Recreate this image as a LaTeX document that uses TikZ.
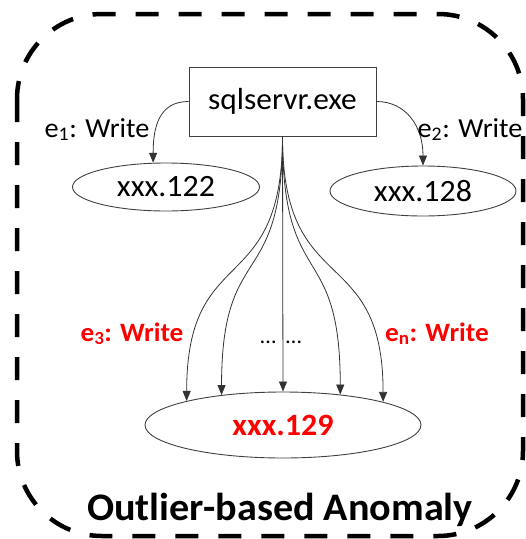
\documentclass[tikz,border=0pt]{standalone}
\usepackage{fontspec}
\setmainfont{Carlito}[FakeStretch=1.03]
\usetikzlibrary{arrows.meta,shapes.geometric,calc}

\begin{document}
\begin{tikzpicture}[x=1pt,y=-1pt,
  frame/.style={line width=4.5pt, dash pattern=on 23pt off 20pt, rounded corners=85pt},
  procbox/.style={draw=black!75, line width=0.9pt, minimum width=187pt,
    minimum height=69pt, inner sep=0pt, font=\fontsize{30.5}{34}\selectfont},
  fileov/.style={ellipse, draw=black!75, line width=0.9pt, inner sep=0pt,
    font=\fontsize{31}{34}\selectfont},
  wr/.style={-{Triangle[length=10pt,width=8pt]}, draw=black!80, line width=0.8pt},
  lbl/.style={anchor=base, inner sep=0pt, font=\fontsize{27.5}{30}\selectfont},
  redlbl/.style={anchor=base, inner sep=0pt, text=red, font=\bfseries\fontsize{26.5}{30}\selectfont},
]
\useasboundingbox (0,0) rectangle (526,539);

% dashed frame around the whole group
\draw[frame] (17,14) rectangle (523,536);

% process and the files it writes
\node[procbox] (proc) at (282.5,101.5) {sqlservr.exe};
\node[fileov, minimum width=187pt, minimum height=48pt] (f122) at (166,187) {xxx.122};
\node[fileov, minimum width=186pt, minimum height=50pt] (f128) at (423,191) {xxx.128};
\node[fileov, minimum width=276pt, minimum height=66pt, text=red,
      font=\bfseries\fontsize{31}{34}\selectfont] (f129) at (283,425) {xxx.129};

% single write events
\draw[wr] (proc.west) .. controls ($(proc.west)+(-30,0)$) and ($(f122.118)+(0,-35)$) .. (f122.118);
\draw[wr] (proc.east) .. controls ($(proc.east)+(29,0)$) and ($(f128.north)+(0,-40)$) .. (f128.north);

% repeated write events to the same file
\draw[wr] (proc.south) .. controls ($(proc.south)+(0,164)$) and ($(f129.166)+(0,-161)$) .. (f129.166);
\draw[wr] (proc.south) .. controls ($(proc.south)+(0,157)$) and ($(f129.154)+(0,-157)$) .. (f129.154);
\draw[wr] (proc.south) -- (f129.north);
\draw[wr] (proc.south) .. controls ($(proc.south)+(0,157)$) and ($(f129.28)+(0,-157)$) .. (f129.28);
\draw[wr] (proc.south) .. controls ($(proc.south)+(0,164)$) and ($(f129.13)+(0,-161)$) .. (f129.13);

% edge labels
\node[lbl] (l1) at (97,137) {e\textsubscript{1}: Write};
\node[lbl] (l2) at (470,137) {e\textsubscript{2}: Write};
\node[redlbl] (l3) at (132,341) {e\textsubscript{3}: Write};
\node[redlbl] (ln) at (437,341) {e\textsubscript{n}: Write};
\node[lbl, font=\fontsize{22}{26}\selectfont] (dots) at (281,343) {…\hspace{10pt}…};

% caption
\node[anchor=base, inner sep=0pt, font=\bfseries\fontsize{39}{44}\selectfont] (cap) at (280,520) {Outlier-based Anomaly};
\end{tikzpicture}
\end{document}
